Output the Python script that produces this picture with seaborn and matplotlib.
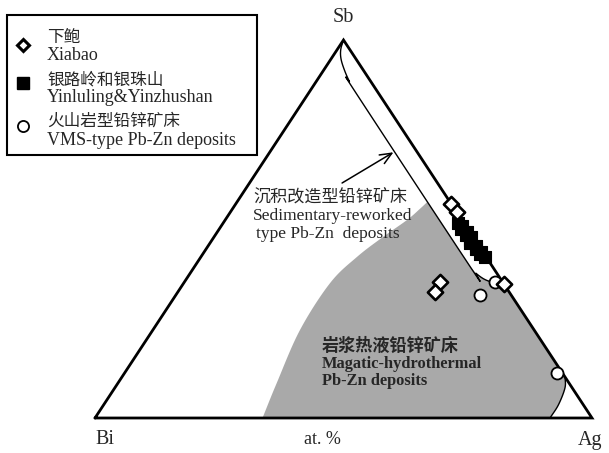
import numpy as np
import pandas as pd
import matplotlib
matplotlib.use("Agg")
import matplotlib.pyplot as plt
import seaborn as sns
from matplotlib.lines import Line2D
from matplotlib.patches import Polygon, Rectangle

sns.set_theme(style="white")
FONT = ["Liberation Serif", "Noto Sans CJK SC", "DejaVu Sans"]
CJK = ["Noto Sans CJK SC", "DejaVu Sans"]
plt.rcParams["font.family"] = FONT

# ---------------- data (atomic fractions Bi, Sb; Ag = 1 - Bi - Sb) ----------------
xiabao_bi = [0.0, 0.0, 0.126, 0.149, 0.0]
xiabao_sb = [0.566, 0.545, 0.360, 0.333, 0.354]

yin_bi = [0.012, 0.008, 0.014, 0.006, 0.012, 0.004, 0.010, 0.014, 0.006, 0.010, 0.004, 0.008, 0.002]
yin_sb = [0.515, 0.508, 0.500, 0.492, 0.485, 0.478, 0.470, 0.463, 0.455, 0.448, 0.440, 0.433, 0.426]

vms_bi = [0.015, 0.063, 0.011]
vms_sb = [0.360, 0.325, 0.119]

# field boundaries (Bi, Sb)
band_bi = [0.0, 0.018, 0.030, 0.038, 0.043, 0.045, 0.045, 0.042, 0.033, 0.018, 0.0]
band_sb = [1.0, 0.975, 0.950, 0.920, 0.890, 0.860, 0.400, 0.383, 0.367, 0.358, 0.355]

magma_left_bi = [0.663, 0.588, 0.471, 0.3485, 0.260, 0.181, 0.110, 0.070, 0.045]
magma_left_sb = [0.0, 0.0926, 0.233, 0.357, 0.426, 0.479, 0.524, 0.553, 0.572]
magma_low_bi = [0.0, 0.015, 0.050, 0.0845]
magma_low_sb = [0.108, 0.079, 0.035, 0.0]

legend_cn = ["下鲍", "银路岭和银珠山", "火山岩型铅锌矿床"]
legend_en = ["Xiabao", "Yinluling&Yinzhushan", "VMS-type Pb-Zn deposits"]


def tern(bi, sb):
    bi = np.asarray(bi, float)
    sb = np.asarray(sb, float)
    ag = 1 - bi - sb
    return ag + sb / 2, sb


def smooth(x, y, n=12):
    # Catmull-Rom spline through boundary vertices
    p = np.column_stack([x, y])
    p = np.vstack([p[0] + (p[0] - p[1]), p, p[-1] + (p[-1] - p[-2])])
    out = []
    t = np.linspace(0, 1, n, endpoint=False)[:, None]
    for i in range(1, len(p) - 2):
        p0, p1, p2, p3 = p[i - 1], p[i], p[i + 1], p[i + 2]
        seg = 0.5 * ((2 * p1) + (-p0 + p2) * t + (2 * p0 - 5 * p1 + 4 * p2 - p3) * t ** 2
                     + (-p0 + 3 * p1 - 3 * p2 + p3) * t ** 3)
        out.append(seg)
    out.append(p[-2][None, :])
    o = np.vstack(out)
    return o[:, 0], o[:, 1]


fig = plt.figure(figsize=(6.09, 4.53), dpi=100)
ax = fig.add_axes([0, 0, 1, 1])
ax.set_xlim(-95 / 497, 514 / 497)
ax.set_ylim(-35 / 378, 418 / 378)
ax.axis("off")

# magmatic-hydrothermal field
bx, by = tern(band_bi, band_sb)
lx, ly = smooth(*tern(magma_left_bi, magma_left_sb))
wx, wy = smooth(*tern(magma_low_bi, magma_low_sb))
sel = (np.array(band_sb) <= 0.572)
poly_x = np.concatenate([lx, bx[sel], wx])
poly_y = np.concatenate([ly, by[sel], wy])
ax.add_patch(Polygon(np.column_stack([poly_x, poly_y]), closed=True,
                     facecolor="#a9a9a9", edgecolor="none", zorder=1))

# triangle
tx, ty = tern([1, 0, 0, 1], [0, 1, 0, 0])
ax.plot(tx, ty, color="black", lw=2.0, zorder=3, solid_joinstyle="miter")
# sedimentary-reworked band
sbx, sby = smooth(bx, by, n=6)
ax.plot(sbx, sby, color="black", lw=1.0, zorder=2)
# lower-right boundary of magmatic field
ax.plot(wx, wy, color="black", lw=1.0, zorder=2)

# arrow
ax0, ay0 = tern(0.192, 0.6217)
ax1, ay1 = tern(0.048, 0.703)
ax.annotate("", xy=(ax1, ay1), xytext=(ax0, ay0),
            arrowprops=dict(arrowstyle="->,head_length=0.7,head_width=0.3",
                            color="black", lw=1.1, shrinkA=0, shrinkB=0), zorder=3)

# points
frames = []
for name, b, s in [("x", xiabao_bi, xiabao_sb), ("y", yin_bi, yin_sb), ("v", vms_bi, vms_sb)]:
    x, y = tern(b, s)
    frames.append(pd.DataFrame({"x": x, "y": y, "grp": name}))
df = pd.concat(frames, ignore_index=True)

sns.scatterplot(data=df[df.grp == "y"], x="x", y="y", marker="s", s=75,
                color="black", edgecolor="black", linewidth=0.8, ax=ax, zorder=5, legend=False)
sns.scatterplot(data=df[df.grp == "v"], x="x", y="y", marker="o", s=75,
                facecolor="white", edgecolor="black", linewidth=1.3, ax=ax, zorder=6, legend=False)
sns.scatterplot(data=df[df.grp == "x"], x="x", y="y", marker="D", s=60,
                facecolor="white", edgecolor="black", linewidth=1.9, ax=ax, zorder=7, legend=False)
ax.set_xlabel("")
ax.set_ylabel("")


def fx(x):
    return x / 609


def fy(y):
    return 1 - y / 453


def ftext(x, y, s, **kw):
    fig.text(fx(x), fy(y), s, **kw)


# legend (manual, drawn in figure pixels)
fig.add_artist(Rectangle((fx(7), fy(155)), fx(250), 140 / 453, transform=fig.transFigure,
                         facecolor="white", edgecolor="black", lw=1.5, zorder=8))
leg_handles = [
    dict(marker="D", markersize=6.5, markerfacecolor="white", markeredgecolor="black", markeredgewidth=2.2),
    dict(marker="s", markersize=8, markerfacecolor="black", markeredgecolor="black", markeredgewidth=1),
    dict(marker="o", markersize=8, markerfacecolor="white", markeredgecolor="black", markeredgewidth=1.3),
]
leg_y = [45, 83, 126]
cn_base = [42, 84, 126]
en_base = [60, 102, 145]
for h, yy, cb, eb, cn, en in zip(leg_handles, leg_y, cn_base, en_base, legend_cn, legend_en):
    fig.add_artist(Line2D([fx(23)], [fy(yy)], ls="none", transform=fig.transFigure, zorder=9, **h))
    ftext(47, cb, cn, ha="left", va="baseline", fontsize=12, family=CJK, zorder=9)
    ftext(47, eb, en, ha="left", va="baseline", fontsize=13, family=FONT, zorder=9)

ftext(343, 18, "Sb", ha="center", va="center", fontsize=14.5, family=FONT)
ftext(105, 440, "Bi", ha="center", va="center", fontsize=14.5, family=FONT)
ftext(590, 440, "Ag", ha="center", va="center", fontsize=14.5, family=FONT)
ftext(322, 440, "at. %", ha="center", va="center", fontsize=13, family=FONT)

ftext(253, 202, "沉积改造型铅锌矿床", ha="left", va="baseline", fontsize=12.3, family=CJK, zorder=10)
ftext(253, 220, "Sedimentary-reworked", ha="left", va="baseline", fontsize=12.5, family=FONT, zorder=10)
ftext(256, 238, "type Pb-Zn  deposits", ha="left", va="baseline", fontsize=12.5, family=FONT, zorder=10)

ftext(322, 351, "岩浆热液铅锌矿床", ha="left", va="baseline", fontsize=12.3, family=CJK,
      weight="bold", zorder=10)
ftext(322, 368, "Magatic-hydrothermal", ha="left", va="baseline", fontsize=11.8, family=FONT,
      weight="bold", zorder=10)
ftext(322, 385, "Pb-Zn deposits", ha="left", va="baseline", fontsize=11.8, family=FONT,
      weight="bold", zorder=10)

fig.savefig("out.png", dpi=100)
